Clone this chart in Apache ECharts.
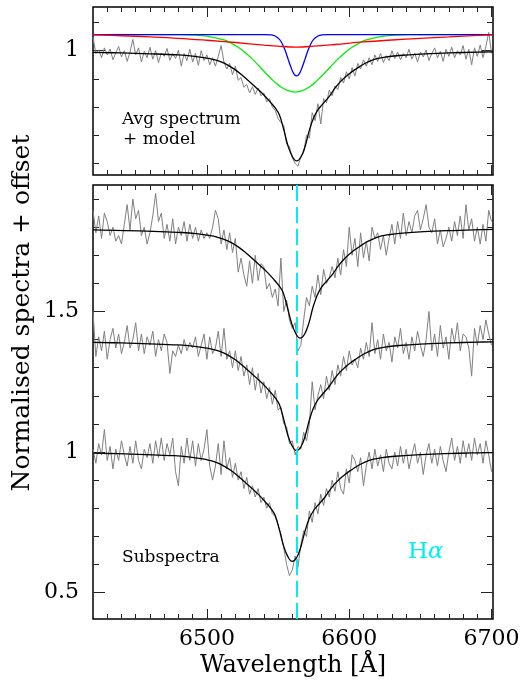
<!DOCTYPE html>
<html><head><meta charset="utf-8">
<script src="https://cdn.jsdelivr.net/npm/echarts@6/dist/echarts.min.js"></script>
<style>html,body{margin:0;padding:0;background:#fff}#c{width:524px;height:684px}</style>
</head><body><div id="c"></div>
<script>
// ---- axis ranges / ticks ----
const xMin = 6420, xMax = 6701;
const xMajor = [6500, 6600, 6700];
const xMinor = [6430,6440,6450,6460,6470,6480,6490,6510,6520,6530,6540,6550,6560,6570,6580,6590,6610,6620,6630,6640,6650,6660,6670,6680,6690];
const yTopMin = 0.559, yTopMax = 1.155;
const yTopMajor = [1];
const yTopMinor = [0.6,0.7,0.8,0.9,1.1];
const yBotMin = 0.406, yBotMax = 1.95;
const yBotMajor = [0.5, 1, 1.5];
const yBotMinor = [0.6,0.7,0.8,0.9,1.1,1.2,1.3,1.4,1.6,1.7,1.8,1.9];
const halpha = 6562.8;

// ---- sampled spectra (2 A sampling from 6420 to 6700) ----
const specStart = 6420, specStep = 2;
const avgSpec = [
1.048,0.990,1.003,0.975,1.010,0.985,1.006,0.968,0.992,1.015,
0.978,1.000,0.962,0.995,1.040,0.985,1.010,0.960,0.998,0.975,
1.012,0.970,1.000,0.958,0.992,0.980,1.008,0.966,0.990,0.972,
1.002,0.945,0.990,0.965,1.005,0.960,0.990,0.948,1.000,0.965,
0.985,0.950,0.975,0.945,0.980,1.018,0.960,0.935,0.955,0.915,
0.945,0.895,0.905,0.870,0.880,0.850,0.872,0.845,0.868,0.840,
0.850,0.818,0.830,0.800,0.788,0.760,0.745,0.735,0.668,0.660,
0.620,0.600,0.590,0.625,0.640,0.700,0.690,0.780,0.752,0.812,
0.740,0.830,0.815,0.860,0.840,0.875,0.862,0.905,0.885,0.925,
0.900,0.940,0.910,0.955,0.935,0.968,0.945,0.975,0.950,0.985,
0.962,0.990,0.958,0.982,0.965,1.000,0.972,0.995,0.968,0.990,
0.975,1.005,0.970,0.992,0.960,0.995,0.978,1.002,0.965,0.990,
1.010,0.975,0.998,0.962,1.005,0.980,1.012,0.975,1.000,0.985,
1.018,0.970,1.005,0.950,1.010,0.980,1.020,0.975,1.015,1.065,
0.990];
const sub1Spec = [
1.86,1.78,1.84,1.76,1.85,1.82,1.77,1.80,1.75,1.77,
1.74,1.81,1.88,1.79,1.90,1.83,1.86,1.77,1.80,1.74,
1.78,1.84,1.92,1.82,1.85,1.76,1.81,1.75,1.83,1.74,
1.80,1.77,1.82,1.75,1.81,1.76,1.80,1.75,1.79,1.76,
1.78,1.76,1.80,1.86,1.83,1.74,1.79,1.72,1.78,1.71,
1.76,1.64,1.69,1.63,1.59,1.68,1.60,1.70,1.61,1.67,
1.66,1.58,1.60,1.55,1.58,1.52,1.69,1.50,1.54,1.47,
1.44,1.46,1.36,1.38,1.47,1.55,1.52,1.59,1.55,1.63,
1.56,1.65,1.60,1.62,1.66,1.62,1.69,1.63,1.72,1.66,
1.80,1.70,1.76,1.66,1.78,1.69,1.75,1.68,1.80,1.76,
1.78,1.72,1.77,1.70,1.76,1.81,1.74,1.82,1.76,1.85,
1.77,1.82,1.78,1.84,1.86,1.79,1.83,1.88,1.80,1.78,
1.83,1.74,1.79,1.73,1.76,1.80,1.75,1.82,1.77,1.84,
1.76,1.88,1.79,1.83,1.75,1.80,1.74,1.81,1.75,1.86,
1.82];
const sub2Spec = [
1.50,1.34,1.41,1.36,1.43,1.33,1.40,1.44,1.37,1.42,
1.35,1.39,1.45,1.37,1.40,1.46,1.36,1.42,1.35,1.41,
1.38,1.43,1.34,1.40,1.36,1.42,1.39,1.28,1.36,1.34,
1.38,1.35,1.40,1.36,1.39,1.37,1.41,1.34,1.38,1.42,
1.33,1.41,1.35,1.37,1.43,1.34,1.44,1.33,1.36,1.30,
1.36,1.29,1.34,1.27,1.31,1.24,1.30,1.22,1.28,1.21,
1.25,1.19,1.23,1.17,1.22,1.15,1.16,1.10,1.09,1.03,
1.04,0.99,1.02,1.01,1.07,1.04,1.10,1.25,1.15,1.20,
1.24,1.19,1.27,1.22,1.29,1.24,1.31,1.27,1.34,1.29,
1.36,1.31,1.33,1.30,1.37,1.33,1.39,1.34,1.46,1.35,
1.40,1.33,1.42,1.36,1.39,1.32,1.41,1.37,1.44,1.35,
1.39,1.33,1.41,1.36,1.43,1.38,1.34,1.40,1.50,1.36,
1.42,1.34,1.45,1.37,1.41,1.33,1.44,1.39,1.46,1.36,
1.42,1.41,1.37,1.27,1.44,1.38,1.45,1.40,1.47,1.42,
1.38];
const sub3Spec = [
1.01,0.96,1.03,0.99,1.08,0.97,1.02,0.94,1.01,0.97,
1.04,0.99,0.95,1.02,0.96,1.04,0.97,0.94,1.01,0.98,
1.03,0.96,1.04,0.98,1.05,0.97,1.03,0.99,1.05,0.93,
0.88,1.02,0.96,1.05,0.97,1.04,0.95,1.03,0.97,1.01,
1.08,0.95,0.90,0.95,1.03,0.92,1.04,0.94,0.98,0.91,
0.96,0.90,0.93,0.87,0.91,0.85,0.88,0.84,0.87,0.82,
0.84,0.80,0.82,0.78,0.77,0.74,0.71,0.66,0.60,0.56,
0.58,0.63,0.59,0.67,0.72,0.70,0.79,0.75,0.82,0.78,
0.85,0.81,0.87,0.84,0.90,0.86,0.93,0.87,0.85,0.94,
0.89,0.99,0.97,0.93,0.98,0.88,0.95,1.00,0.94,1.01,
0.95,0.99,0.93,1.01,0.96,0.94,1.00,0.95,1.02,0.96,
1.01,0.94,0.99,1.03,0.96,1.00,0.92,0.99,1.03,0.96,
1.01,0.95,1.02,0.97,0.93,1.00,1.05,0.97,1.02,0.96,
1.04,0.98,1.03,0.97,1.05,0.99,1.03,0.96,1.04,0.99,
0.93];

// ---- smooth models ----
const avgModelWl = [6420,6440,6460,6480,6490,6500,6505,6510,6515,6520,6525,6530,6535,6540,6545,6548,6551,6554,6557,6560,6563,6566,6569,6572,6575,6578,6582,6586,6590,6594,6600,6605,6610,6617,6625,6635,6650,6670,6690,6701];
const avgModel = [0.994,0.992,0.989,0.985,0.981,0.974,0.968,0.960,0.948,0.932,0.912,0.890,0.867,0.843,0.815,0.797,0.772,0.720,0.662,0.625,0.609,0.622,0.660,0.718,0.762,0.790,0.814,0.838,0.867,0.891,0.918,0.936,0.952,0.968,0.977,0.983,0.988,0.992,0.995,0.996];
const sub1ModelWl = [6420,6442.5,6462.5,6482.5,6492.5,6502.5,6507.5,6512.5,6517.5,6522.5,6527.5,6532.5,6537.5,6542.5,6547.5,6550.5,6553.5,6556.5,6559.5,6562.5,6565.5,6568.5,6571.5,6574.5,6577.5,6580.5,6584.5,6588.5,6592.5,6596.5,6602.5,6607.5,6612.5,6619.5,6627.5,6637.5,6652.5,6672.5,6692.5,6701];
const sub1Model = [1.790,1.788,1.785,1.781,1.777,1.770,1.764,1.756,1.744,1.728,1.708,1.686,1.663,1.639,1.611,1.593,1.568,1.516,1.458,1.421,1.405,1.418,1.456,1.514,1.558,1.586,1.610,1.634,1.663,1.687,1.714,1.732,1.748,1.764,1.773,1.779,1.784,1.788,1.791,1.792];
const sub2ModelWl = [6420,6440,6460,6480,6490,6500,6505,6510,6515,6520,6525,6530,6535,6540,6545,6548,6551,6554,6557,6560,6563,6566,6569,6572,6575,6578,6582,6586,6590,6594,6600,6605,6610,6617,6625,6635,6650,6670,6690,6701];
const sub2Model = [1.390,1.388,1.385,1.381,1.377,1.370,1.364,1.356,1.344,1.328,1.308,1.286,1.263,1.239,1.211,1.193,1.168,1.116,1.058,1.021,1.005,1.018,1.056,1.114,1.158,1.186,1.210,1.234,1.263,1.287,1.314,1.332,1.348,1.364,1.373,1.379,1.384,1.388,1.391,1.392];
const sub3ModelWl = [6420,6437,6457,6477,6487,6497,6502,6507,6512,6517,6522,6527,6532,6537,6542,6545,6548,6551,6554,6557,6560,6563,6566,6569,6572,6575,6579,6583,6587,6591,6597,6602,6607,6614,6622,6632,6647,6667,6687,6701];
const sub3Model = [0.996,0.994,0.991,0.987,0.983,0.976,0.970,0.962,0.950,0.934,0.914,0.892,0.869,0.845,0.817,0.799,0.774,0.722,0.664,0.627,0.611,0.624,0.662,0.720,0.764,0.792,0.816,0.840,0.869,0.893,0.920,0.938,0.954,0.970,0.979,0.985,0.990,0.994,0.997,0.998];

// ---- model components (top panel) ----
const blueWl = [6420,6541,6545,6548,6551,6553,6555,6557,6559,6561,6563,6565,6567,6569,6571,6573,6575,6578,6581,6585,6701];
const blueComp = [1.057,1.057,1.056,1.052,1.040,1.024,1.001,0.971,0.942,0.919,0.911,0.919,0.942,0.971,1.001,1.024,1.040,1.052,1.056,1.057,1.057];
const greenWl = [6420,6482,6492,6502,6512,6517,6522,6527,6532,6537,6542,6547,6552,6557,6562,6567,6572,6577,6582,6587,6592,6597,6602,6607,6612,6622,6632,6642,6701];
const greenComp = [1.057,1.057,1.055,1.050,1.038,1.027,1.012,0.993,0.970,0.944,0.917,0.892,0.871,0.858,0.853,0.858,0.871,0.892,0.917,0.944,0.970,0.993,1.012,1.027,1.038,1.050,1.055,1.057,1.057];
const redWl = [6420,6440,6460,6480,6500,6520,6540,6550,6563,6575,6590,6610,6630,6650,6670,6690,6701];
const redComp = [1.056,1.053,1.049,1.044,1.037,1.029,1.020,1.016,1.013,1.016,1.022,1.031,1.038,1.044,1.049,1.054,1.056];

// ---- helpers ----
function sampled(vals){ return vals.map((v,i)=>[specStart + specStep*i, v]); }
function pairs(wl, vals){ return wl.map((w,i)=>[w, vals[i]]); }

const FONT = 'DejaVu Serif';
const tickColor = '#222';
const plain = v => String(v);
function xAx(g, pos, vals, len, labels){
  return {type:'value', gridIndex:g, position:pos, min:xMin, max:xMax,
    axisLine:{show:false, onZero:false}, splitLine:{show:false},
    axisTick:{show:true, inside:true, length:len, customValues:vals, lineStyle:{color:tickColor, width:1}},
    axisLabel: labels ? {show:true, customValues:labels, formatter:plain, margin:9, color:'#000', fontSize:22, fontFamily:FONT} : {show:false}};
}
function yAx(g, pos, mn, mx, vals, len, labels){
  return {type:'value', gridIndex:g, position:pos, min:mn, max:mx,
    axisLine:{show:false, onZero:false}, splitLine:{show:false},
    axisTick:{show:true, inside:true, length:len, customValues:vals, lineStyle:{color:tickColor, width:1}},
    axisLabel: labels ? {show:true, customValues:labels, formatter:plain, margin:14, color:'#000', fontSize:22, fontFamily:FONT} : {show:false}};
}

const xAxes = [
  xAx(0,'bottom',xMinor,5,null), xAx(0,'bottom',xMajor,10,null), xAx(0,'top',xMinor,5,null), xAx(0,'top',xMajor,10,null),
  xAx(1,'bottom',xMinor,5,xMajor), xAx(1,'bottom',xMajor,10,null), xAx(1,'top',xMinor,5,null), xAx(1,'top',xMajor,10,null)
];
const yAxes = [
  yAx(0,'left',yTopMin,yTopMax,yTopMinor,6,yTopMajor), yAx(0,'left',yTopMin,yTopMax,yTopMajor,12,null),
  yAx(0,'right',yTopMin,yTopMax,yTopMinor,6,null), yAx(0,'right',yTopMin,yTopMax,yTopMajor,12,null),
  yAx(1,'left',yBotMin,yBotMax,yBotMinor,6,yBotMajor), yAx(1,'left',yBotMin,yBotMax,yBotMajor,12,null),
  yAx(1,'right',yBotMin,yBotMax,yBotMinor,6,null), yAx(1,'right',yBotMin,yBotMax,yBotMajor,12,null)
];

function line(data, g, color, width, smooth, extra){
  return Object.assign({type:'line', xAxisIndex:g*4, yAxisIndex:g*4, data:data, showSymbol:false, symbol:'none',
    smooth:smooth, lineStyle:{color:color, width:width}, silent:true}, extra||{});
}

const cyan = '#00eef2';
const series = [
  line(sampled(avgSpec),0,'#808080',1,false),
  line(pairs(greenWl,greenComp),0,'#00ee00',1.3,0.4),
  line(pairs(blueWl,blueComp),0,'#0000ff',1.3,0.4),
  line(pairs(redWl,redComp),0,'#ff0000',1.3,0.4),
  line(pairs(avgModelWl,avgModel),0,'#000',1.3,0.4),
  line(sampled(sub1Spec),1,'#808080',1,false),
  line(sampled(sub2Spec),1,'#808080',1,false),
  line(sampled(sub3Spec),1,'#808080',1,false),
  line(pairs(sub1ModelWl,sub1Model),1,'#000',1.3,0.4,{
    markLine:{silent:true, symbol:['none','none'], label:{show:false},
      lineStyle:{color:cyan, width:2, type:[16,6]}, data:[{xAxis:halpha}]}}),
  line(pairs(sub2ModelWl,sub2Model),1,'#000',1.3,0.4),
  line(pairs(sub3ModelWl,sub3Model),1,'#000',1.3,0.4)
];

const chart = echarts.init(document.getElementById('c'), null, {renderer:'canvas'});
chart.setOption({
  animation:false,
  backgroundColor:'#fff',
  grid:[
    {left:93, top:7, width:400, height:168, show:true, borderColor:'#000', borderWidth:1.5, backgroundColor:'transparent'},
    {left:93, top:185, width:400, height:434, show:true, borderColor:'#000', borderWidth:1.5, backgroundColor:'transparent'}
  ],
  xAxis:xAxes, yAxis:yAxes, series:series,
  graphic:[
    {type:'text', x:122, y:120, style:{text:'Avg spectrum', font:'17px "DejaVu Serif"', fill:'#000', align:'left', verticalAlign:'middle'}},
    {type:'text', x:123, y:140, style:{text:'+ model', font:'17px "DejaVu Serif"', fill:'#000', align:'left', verticalAlign:'middle'}},
    {type:'text', x:122, y:558, style:{text:'Subspectra', font:'17px "DejaVu Serif"', fill:'#000', align:'left', verticalAlign:'middle'}},
    {type:'text', x:408, y:552, style:{text:'{h|H}{a|α}', align:'left', verticalAlign:'middle',
       rich:{h:{fontSize:23, fontFamily:FONT, fill:cyan}, a:{fontSize:23, fontFamily:FONT, fontStyle:'italic', fill:cyan}}}},
    {type:'text', x:293, y:666, style:{text:'Wavelength [Å]', font:'24px "DejaVu Serif"', fill:'#000', align:'center', verticalAlign:'middle'}},
    {type:'text', x:22, y:313, rotation:Math.PI/2, style:{text:'Normalised spectra + offset', font:'25px "DejaVu Serif"', fill:'#000', align:'center', verticalAlign:'middle'}}
  ]
});
</script>
</body></html>
